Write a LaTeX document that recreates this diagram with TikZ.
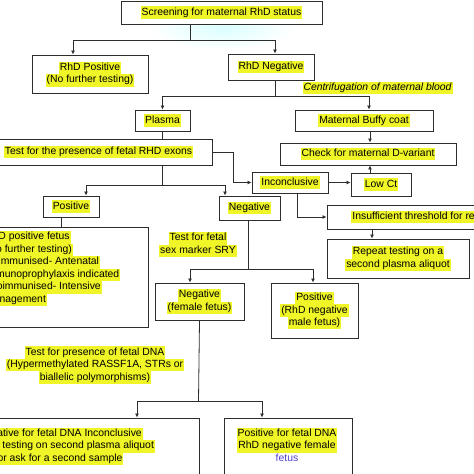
\documentclass[tikz,border=0pt]{standalone}
\usepackage{fontspec}
\setmainfont{Liberation Sans}
\usetikzlibrary{arrows.meta}

\definecolor{hlyellow}{RGB}{240,245,40}
\definecolor{linegray}{RGB}{45,45,45}
\definecolor{fetusblue}{RGB}{80,64,200}
\newcommand\fs{\fontsize{10.4}{12.5}\selectfont}
\newcommand\hl[1]{{\setlength{\fboxsep}{0pt}\colorbox{hlyellow}{\hspace{1pt}\strut#1\hspace{1pt}}}}

\begin{document}
\begin{tikzpicture}[x=1pt, y=-1pt,
    box/.style={draw=linegray, line width=0.9pt, fill=white, inner sep=0pt, align=center, font=\fs},
    note/.style={inner sep=0pt, align=center, font=\fs},
    link/.style={draw=linegray, line width=0.8pt},
    arr/.style={link, -{Latex[length=4pt, width=4pt]}}]
  \useasboundingbox (0,0) rectangle (474,474);
  \clip (0,0) rectangle (474,474);

  % Faint blob behind the title
  \shade[inner color=cyan!14, outer color=white] (222,28) ellipse (72 and 22);

  % Screening and RhD status
  \node[box, minimum width=201, minimum height=23] (screen) at (221.5,12.5) {\hl{Screening for maternal RhD status}};
  \node[box, minimum width=116, minimum height=38] (rhdpos) at (90,74) {\hl{RhD Positive}\\\hl{(No further testing)}};
  \node[box, minimum width=86, minimum height=26] (rhdneg) at (271,67) {\hl{RhD Negative}};
  \node[note, font=\fs\itshape] (centrif) at (377.5,88) {\hl{Centrifugation of maternal blood}};

  \coordinate (j1) at (190,40);
  \draw[link] ([xshift=-31.5pt]screen.south) -- (j1);
  \draw[arr] (j1) -| ([xshift=-17pt]rhdpos.north);
  \draw[arr] (j1) -| ([xshift=4pt]rhdneg.north);

  % Plasma and buffy coat
  \node[box, minimum width=55, minimum height=21] (plasma) at (162.5,120.5) {\hl{Plasma}};
  \node[box, minimum width=138, minimum height=21] (buffy) at (364,120.5) {\hl{Maternal Buffy coat}};

  \coordinate (j2) at (275,96);
  \draw[link] ([xshift=4pt]rhdneg.south) -- (j2);
  \draw[arr] (j2) -| (plasma.north);
  \draw[arr] (j2) -| ([xshift=5pt]buffy.north);

  \node[box, minimum width=227, minimum height=26] (test) at (98.5,152) {\hl{Test for the presence of fetal RHD exons}};
  \node[box, minimum width=176, minimum height=22] (check) at (368,154) {\hl{Check for maternal D-variant}};
  \draw[link] (plasma.south) -- (plasma.south |- test.north);
  \draw[arr] ([xshift=6pt]buffy.south) -- ([xshift=6pt]buffy.south |- check.north);

  % Inconclusive branch
  \node[box, minimum width=76, minimum height=21] (incon) at (290,182.5) {\hl{Inconclusive}};
  \node[box, minimum width=60, minimum height=23] (lowct) at (381,184.5) {\hl{Low Ct}};
  \node[box, minimum width=205, minimum height=24] (insuff) at (429.5,217) {\hl{Insufficient threshold for reporting}};
  \node[box, minimum width=142, minimum height=39] (repeat) at (398,258.5) {\hl{Repeat testing on a}\\\hl{second plasma aliquot}};

  \coordinate (bend1) at (233,152);
  \draw[arr] (test.east) -| (bend1 |- incon.west) -- (incon.west);
  \draw[arr] (incon.east) -- (incon.east -| lowct.west);
  \draw[arr] ([xshift=-11pt]lowct.north) -- ([xshift=-11pt]lowct.north |- check.south);
  \draw[arr] ([xshift=7pt]incon.south) |- (insuff.west);
  \draw[arr] ([xshift=-26pt]repeat.north |- insuff.south) -- ([xshift=-26pt]repeat.north);

  % RHD exons result
  \node[box, minimum width=56, minimum height=21] (pos) at (71,206.5) {\hl{Positive}};
  \node[box, minimum width=61, minimum height=24] (neg) at (249.5,208) {\hl{Negative}};

  \coordinate (j3) at (162,185);
  \draw[link] (test.south -| j3) -- (j3);
  \draw[arr] (j3) -| ([xshift=15pt]pos.north);
  \draw[arr] (j3) -| ([xshift=-24.5pt]neg.north);

  \node[box, minimum width=168, minimum height=100] (fetuspos) at (64,277) {};
  \node[note, align=left, anchor=north west] (fetustxt) at (-16,231) {\hl{RhD positive fetus}\\\hl{(No further testing)}\\\hl{Unimmunised- Antenatal}\\\hl{immunoprophylaxis indicated}\\\hl{Alloimmunised- Intensive}\\\hl{management}};
  \draw[link] ([xshift=-10pt]pos.south) -- ([xshift=-10pt]pos.south |- fetuspos.north);

  % SRY test
  \node[note] (sry) at (198,244.5) {\hl{Test for fetal}\\\hl{sex marker SRY}};
  \node[box, minimum width=89, minimum height=37] (female) at (199.5,301.5) {\hl{Negative}\\\hl{(female fetus)}};
  \node[box, minimum width=87, minimum height=55] (male) at (314.5,310.5) {\hl{Positive}\\\hl{(RhD negative}\\\hl{male fetus)}};

  \coordinate (j4) at (248,269);
  \draw[link] ([xshift=-1.5pt]neg.south) -- (j4);
  \draw[arr] (j4) -| ([xshift=-9.5pt]female.north);
  \draw[arr] (j4) -| ([xshift=-1.5pt]male.north);

  % Fetal DNA test
  \node[note] (dnatest) at (95,365) {\hl{Test for presence of fetal DNA}\\\hl{(Hypermethylated RASSF1A, STRs or}\\\hl{biallelic polymorphisms)}};
  \node[box, minimum width=286, minimum height=82] (dnaneg) at (56,459) {};
  \node[box, minimum width=128, minimum height=82] (dnapos) at (288,459) {};
  \node[note, anchor=north] (dnanegtxt) at (60,427.5) {\hl{Negative for fetal DNA Inconclusive}\\\hl{Repeat testing on second plasma aliquot}\\\hl{or ask for a second sample}};
  \node[note, anchor=north] (dnapostxt) at (287,427.5) {\hl{Positive for fetal DNA}\\\hl{RhD negative female}\\\textcolor{fetusblue}{\strut fetus}};

  \coordinate (j5) at (199,401);
  \draw[link] (female.south) -- ([xshift=-0.5pt]j5);
  \draw[arr] (j5) -| ([xshift=81pt]dnaneg.north);
  \draw[arr] (j5) -| ([xshift=-26pt]dnapos.north);
\end{tikzpicture}
\end{document}
